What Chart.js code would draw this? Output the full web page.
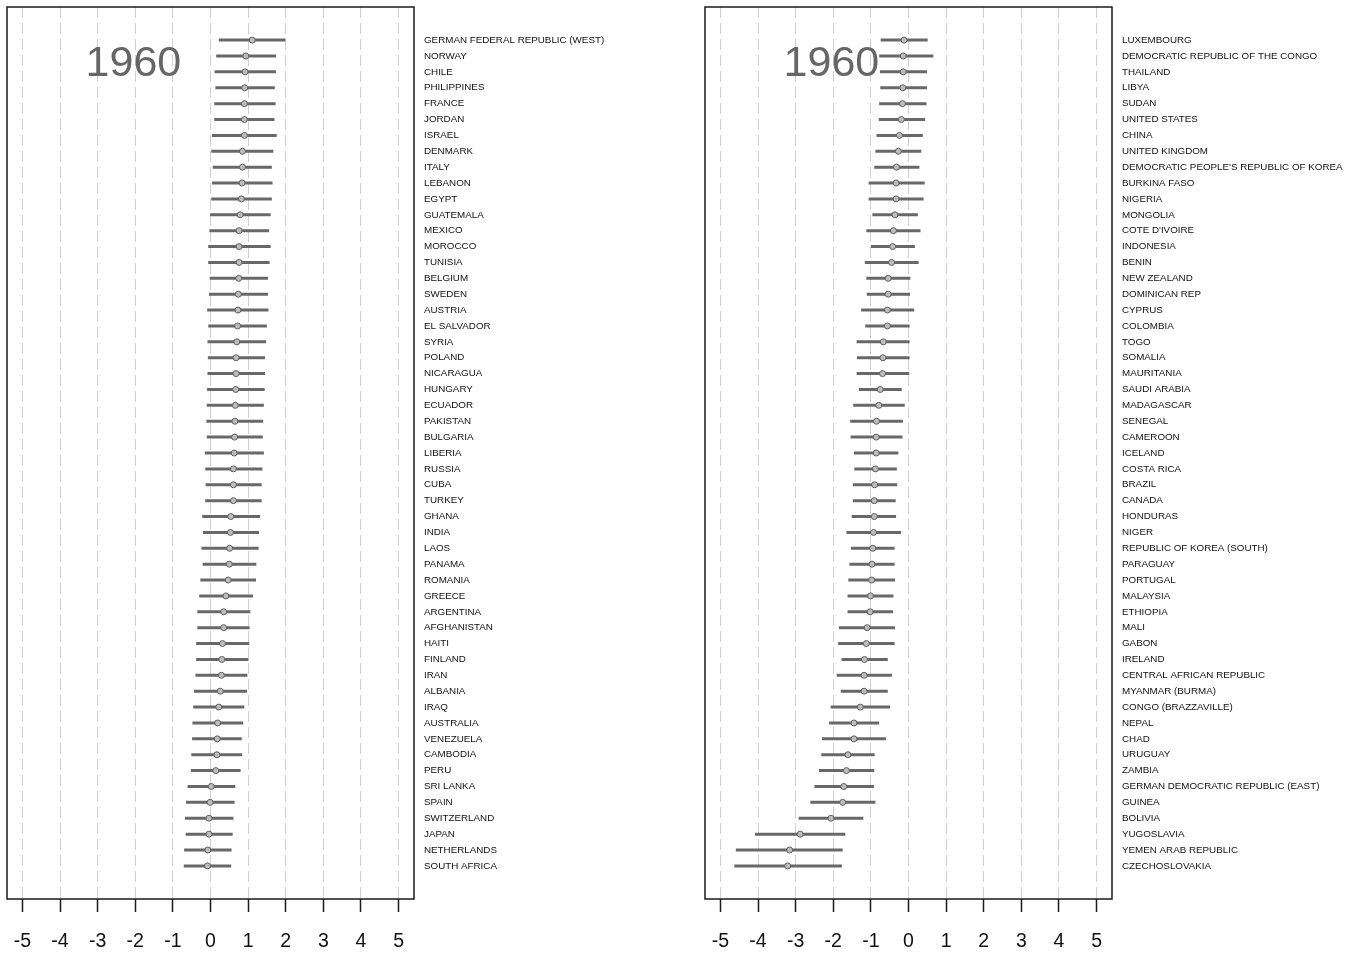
<!DOCTYPE html>
<html>
<head>
<meta charset="utf-8">
<title>1960</title>
<script src="https://cdn.jsdelivr.net/npm/chart.js@4/dist/chart.umd.min.js"></script>
<style>
  html, body { margin: 0; padding: 0; background: #ffffff; }
  body { width: 1357px; height: 953px; position: relative; overflow: hidden; }
  .panel { position: absolute; top: 0; height: 953px; }
  #leftPanel { left: 0; width: 678px; }
  #rightPanel { left: 698px; width: 659px; }
</style>
</head>
<body>
<div class="panel" id="leftPanel"><canvas id="leftChart"></canvas></div>
<div class="panel" id="rightPanel"><canvas id="rightChart"></canvas></div>
<script>
// Year shown in each panel
const yearLabel = '1960';

// x-axis tick values
const xTicks = [-5, -4, -3, -2, -1, 0, 1, 2, 3, 4, 5];

// Left panel: countries, interval lows, means, interval highs
const leftNames = [
  'GERMAN FEDERAL REPUBLIC (WEST)', 'NORWAY', 'CHILE', 'PHILIPPINES', 'FRANCE', 'JORDAN',
  'ISRAEL', 'DENMARK', 'ITALY', 'LEBANON', 'EGYPT', 'GUATEMALA', 'MEXICO', 'MOROCCO',
  'TUNISIA', 'BELGIUM', 'SWEDEN', 'AUSTRIA', 'EL SALVADOR', 'SYRIA', 'POLAND', 'NICARAGUA',
  'HUNGARY', 'ECUADOR', 'PAKISTAN', 'BULGARIA', 'LIBERIA', 'RUSSIA', 'CUBA', 'TURKEY',
  'GHANA', 'INDIA', 'LAOS', 'PANAMA', 'ROMANIA', 'GREECE', 'ARGENTINA', 'AFGHANISTAN',
  'HAITI', 'FINLAND', 'IRAN', 'ALBANIA', 'IRAQ', 'AUSTRALIA', 'VENEZUELA', 'CAMBODIA',
  'PERU', 'SRI LANKA', 'SPAIN', 'SWITZERLAND', 'JAPAN', 'NETHERLANDS', 'SOUTH AFRICA'
];
const leftLow = [
  0.22, 0.15, 0.11, 0.13, 0.10, 0.10, 0.04, 0.02, 0.06, 0.04, 0.02, -0.01, -0.03, -0.06,
  -0.06, -0.02, -0.04, -0.09, -0.06, -0.08, -0.07, -0.08, -0.09, -0.10, -0.11, -0.10, -0.15,
  -0.14, -0.13, -0.14, -0.22, -0.20, -0.24, -0.21, -0.27, -0.30, -0.35, -0.35, -0.38, -0.38,
  -0.40, -0.44, -0.46, -0.48, -0.49, -0.51, -0.52, -0.61, -0.65, -0.68, -0.66, -0.70, -0.71
];
const leftMean = [
  1.11, 0.94, 0.92, 0.91, 0.90, 0.90, 0.90, 0.85, 0.85, 0.84, 0.82, 0.79, 0.76, 0.76,
  0.76, 0.75, 0.74, 0.73, 0.72, 0.70, 0.68, 0.68, 0.67, 0.66, 0.65, 0.64, 0.63,
  0.61, 0.61, 0.61, 0.54, 0.53, 0.51, 0.50, 0.47, 0.41, 0.35, 0.35, 0.32, 0.30,
  0.29, 0.26, 0.22, 0.19, 0.18, 0.17, 0.14, 0.02, -0.01, -0.04, -0.04, -0.07, -0.08
];
const leftHigh = [
  1.99, 1.74, 1.74, 1.71, 1.73, 1.70, 1.76, 1.67, 1.63, 1.65, 1.63, 1.60, 1.56, 1.60,
  1.57, 1.53, 1.53, 1.54, 1.50, 1.48, 1.45, 1.45, 1.44, 1.42, 1.40, 1.39, 1.42,
  1.38, 1.36, 1.36, 1.32, 1.29, 1.28, 1.22, 1.21, 1.13, 1.06, 1.04, 1.03, 1.01,
  0.98, 0.97, 0.90, 0.87, 0.83, 0.84, 0.80, 0.66, 0.64, 0.61, 0.59, 0.56, 0.55
];

// Right panel: countries, interval lows, means, interval highs
const rightNames = [
  'LUXEMBOURG', 'DEMOCRATIC REPUBLIC OF THE CONGO', 'THAILAND', 'LIBYA', 'SUDAN',
  'UNITED STATES', 'CHINA', 'UNITED KINGDOM', "DEMOCRATIC PEOPLE'S REPUBLIC OF KOREA",
  'BURKINA FASO', 'NIGERIA', 'MONGOLIA', "COTE D'IVOIRE", 'INDONESIA', 'BENIN',
  'NEW ZEALAND', 'DOMINICAN REP', 'CYPRUS', 'COLOMBIA', 'TOGO', 'SOMALIA', 'MAURITANIA',
  'SAUDI ARABIA', 'MADAGASCAR', 'SENEGAL', 'CAMEROON', 'ICELAND', 'COSTA RICA', 'BRAZIL',
  'CANADA', 'HONDURAS', 'NIGER', 'REPUBLIC OF KOREA (SOUTH)', 'PARAGUAY', 'PORTUGAL',
  'MALAYSIA', 'ETHIOPIA', 'MALI', 'GABON', 'IRELAND', 'CENTRAL AFRICAN REPUBLIC',
  'MYANMAR (BURMA)', 'CONGO (BRAZZAVILLE)', 'NEPAL', 'CHAD', 'URUGUAY', 'ZAMBIA',
  'GERMAN DEMOCRATIC REPUBLIC (EAST)', 'GUINEA', 'BOLIVIA', 'YUGOSLAVIA',
  'YEMEN ARAB REPUBLIC', 'CZECHOSLOVAKIA'
];
const rightLow = [
  -0.74, -0.78, -0.76, -0.75, -0.78, -0.79, -0.85, -0.88, -0.91, -1.06, -1.06, -0.96,
  -1.12, -1.00, -1.16, -1.12, -1.11, -1.26, -1.15, -1.38, -1.37, -1.38, -1.32, -1.47,
  -1.55, -1.54, -1.45, -1.44, -1.48, -1.48, -1.51, -1.65, -1.53, -1.57, -1.60, -1.62,
  -1.62, -1.85, -1.87, -1.78, -1.91, -1.80, -2.07, -2.11, -2.30, -2.32, -2.38, -2.50,
  -2.61, -2.92, -4.08, -4.59, -4.63
];
const rightMean = [
  -0.12, -0.14, -0.14, -0.15, -0.16, -0.19, -0.24, -0.27, -0.32, -0.33, -0.33, -0.36,
  -0.40, -0.42, -0.45, -0.54, -0.54, -0.56, -0.56, -0.67, -0.68, -0.69, -0.75, -0.79,
  -0.85, -0.86, -0.86, -0.88, -0.90, -0.91, -0.91, -0.93, -0.95, -0.97, -0.98, -1.01,
  -1.02, -1.10, -1.12, -1.17, -1.18, -1.18, -1.28, -1.45, -1.45, -1.61, -1.65, -1.72,
  -1.75, -2.06, -2.88, -3.16, -3.21
];
const rightHigh = [
  0.51, 0.66, 0.49, 0.49, 0.48, 0.44, 0.38, 0.34, 0.29, 0.43, 0.40, 0.25,
  0.32, 0.17, 0.27, 0.05, 0.04, 0.15, 0.03, 0.03, 0.03, 0.02, -0.18, -0.10,
  -0.15, -0.16, -0.27, -0.31, -0.30, -0.34, -0.33, -0.20, -0.37, -0.37, -0.36, -0.40,
  -0.41, -0.36, -0.37, -0.55, -0.44, -0.55, -0.49, -0.78, -0.60, -0.90, -0.91, -0.92,
  -0.88, -1.20, -1.68, -1.75, -1.77
];

const LABEL_FONT = '"Liberation Sans", Arial, Helvetica, sans-serif';
const ROW_PAD = 2.085;

// Frame around the plotting region
const frameBox = {
  id: 'frameBox',
  afterDraw(chart) {
    const a = chart.chartArea, ctx = chart.ctx;
    ctx.save();
    ctx.strokeStyle = '#1a1a1a';
    ctx.lineWidth = 1.5;
    ctx.strokeRect(a.left, a.top, a.right - a.left, a.bottom - a.top);
    ctx.restore();
  }
};

// Large year caption inside the plot
const yearCaption = {
  id: 'yearCaption',
  afterDatasetsDraw(chart, args, opts) {
    const ctx = chart.ctx;
    const x = chart.scales.x.getPixelForValue(opts.x);
    const y = chart.scales.y.getPixelForValue(opts.y);
    ctx.save();
    ctx.font = '43px ' + LABEL_FONT;
    ctx.fillStyle = '#666666';
    ctx.textAlign = 'center';
    ctx.textBaseline = 'alphabetic';
    ctx.fillText(opts.text, x, y);
    ctx.restore();
  }
};

// Keep the plotting region at fixed edges: no extra room for edge labels
function noEdgePadding(axis) {
  axis.paddingLeft = 0;
  axis.paddingRight = 0;
  axis.paddingTop = 0;
  axis.paddingBottom = 0;
}

function buildChart(canvasId, names, low, mean, high, padLeft, axisWidth) {
  const segments = [];
  names.forEach((_, i) => {
    segments.push({ x: low[i], y: i }, { x: high[i], y: i }, { x: null, y: null });
  });
  const means = names.map((_, i) => ({ x: mean[i], y: i }));

  return new Chart(document.getElementById(canvasId), {
    type: 'scatter',
    data: {
      datasets: [
        {
          label: 'interval',
          data: segments,
          showLine: true,
          spanGaps: false,
          borderColor: '#686868',
          borderWidth: 3,
          borderCapStyle: 'butt',
          pointRadius: 0,
          pointHoverRadius: 0,
          order: 2
        },
        {
          label: 'mean',
          data: means,
          showLine: false,
          pointRadius: 3,
          pointHoverRadius: 3,
          pointBackgroundColor: '#bdbdbd',
          pointBorderColor: '#5e5e5e',
          pointBorderWidth: 1,
          order: 1
        }
      ]
    },
    options: {
      responsive: true,
      maintainAspectRatio: false,
      animation: false,
      events: [],
      layout: { padding: { left: padLeft, top: 7, right: 0, bottom: 0 } },
      plugins: {
        legend: { display: false },
        tooltip: { enabled: false },
        title: { display: false },
        yearCaption: { text: yearLabel, x: -2.05, y: 2.27 }
      },
      scales: {
        x: {
          type: 'linear',
          position: 'bottom',
          min: -5.41,
          max: 5.41,
          afterBuildTicks(axis) { axis.ticks = xTicks.map(v => ({ value: v })); },
          afterFit(axis) { axis.height = 54; noEdgePadding(axis); },
          grid: {
            display: true,
            drawOnChartArea: true,
            drawTicks: true,
            color: '#cfcfcf',
            lineWidth: 1,
            tickColor: '#1a1a1a',
            tickWidth: 1.5,
            tickLength: 13
          },
          border: { display: false, dash: [11, 5] },
          ticks: {
            color: '#111111',
            padding: 18,
            maxRotation: 0,
            autoSkip: false,
            font: { family: LABEL_FONT, size: 19.5 },
            callback: (v) => String(v)
          }
        },
        y: {
          type: 'linear',
          position: 'right',
          reverse: true,
          min: -ROW_PAD,
          max: names.length - 1 + ROW_PAD,
          afterBuildTicks(axis) { axis.ticks = names.map((_, i) => ({ value: i })); },
          afterFit(axis) { axis.width = axisWidth; noEdgePadding(axis); },
          grid: { display: false, drawTicks: false },
          border: { display: false },
          ticks: {
            color: '#111111',
            padding: 10,
            autoSkip: false,
            crossAlign: 'near',
            font: { family: LABEL_FONT, size: 9.8 },
            callback: (v, idx) => names[idx]
          }
        }
      }
    },
    plugins: [frameBox, yearCaption]
  });
}

buildChart('leftChart', leftNames, leftLow, leftMean, leftHigh, 7, 264);
buildChart('rightChart', rightNames, rightLow, rightMean, rightHigh, 7, 245);
</script>
</body>
</html>
